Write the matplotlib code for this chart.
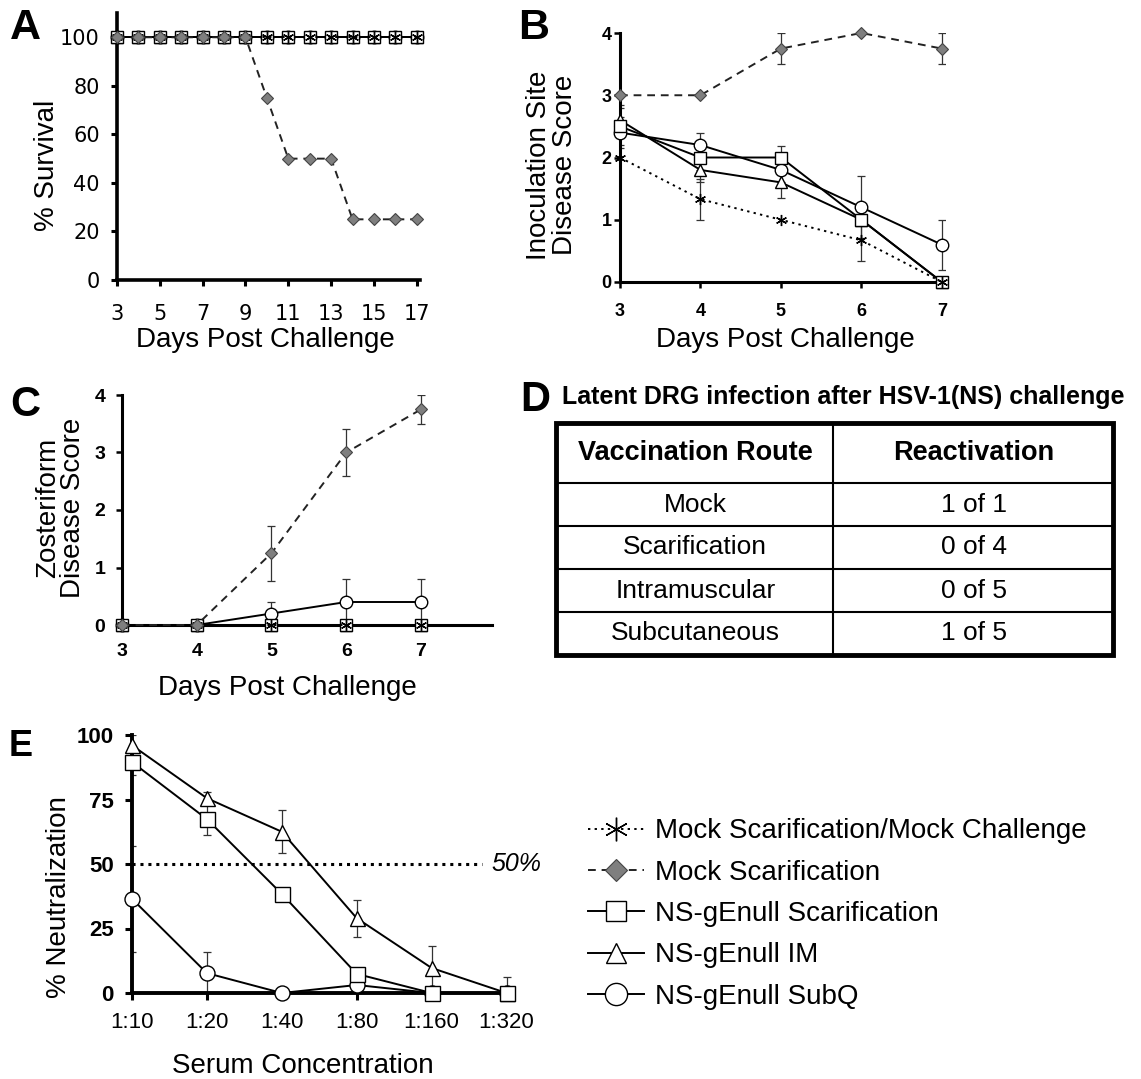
import numpy as np
import matplotlib
matplotlib.use("Agg")
import matplotlib.pyplot as plt
from matplotlib.lines import Line2D

plt.rcParams["font.family"] = ["Liberation Sans", "DejaVu Sans"]

W, H = 1141, 1079

series_names = ["Mock Scarification/Mock Challenge", "Mock Scarification",
                "NS-gEnull Scarification", "NS-gEnull IM", "NS-gEnull SubQ"]

# A: survival
survival_days = [3, 4, 5, 6, 7, 8, 9, 10, 11, 12, 13, 14, 15, 16, 17]
survival_mock_mock = [100, 100, 100, 100, 100, 100, 100, 100, 100, 100, 100, 100, 100, 100, 100]
survival_mock_scar = [100, 100, 100, 100, 100, 100, 100, 75, 50, 50, 50, 25, 25, 25, 25]
survival_scar = [100, 100, 100, 100, 100, 100, 100, 100, 100, 100, 100, 100, 100, 100, 100]
survival_im = [100, 100, 100, 100, 100, 100, 100, 100, 100, 100, 100, 100, 100, 100, 100]
survival_subq = [100, 100, 100, 100, 100, 100, 100, 100, 100, 100, 100, 100, 100, 100, 100]

# B: inoculation site disease score
score_days = [3, 4, 5, 6, 7]
inoc_mock_mock = [2.0, 1.33, 1.0, 0.67, 0.0]
inoc_mock_mock_err = [0.0, 0.33, 0.0, 0.33, 0.0]
inoc_mock_scar = [3.0, 3.0, 3.75, 4.0, 3.75]
inoc_mock_scar_err = [0.0, 0.0, 0.25, 0.0, 0.25]
inoc_scar = [2.5, 2.0, 2.0, 1.0, 0.0]
inoc_scar_err = [0.3, 0.2, 0.18, 0.0, 0.0]
inoc_im = [2.6, 1.8, 1.6, 1.0, 0.0]
inoc_im_err = [0.25, 0.2, 0.25, 0.0, 0.0]
inoc_subq = [2.4, 2.2, 1.8, 1.2, 0.6]
inoc_subq_err = [0.25, 0.2, 0.2, 0.5, 0.4]

# C: zosteriform disease score
zost_mock_mock = [0.0, 0.0, 0.0, 0.0, 0.0]
zost_mock_scar = [0.0, 0.0, 1.25, 3.0, 3.75]
zost_mock_scar_err = [0.0, 0.0, 0.48, 0.41, 0.25]
zost_scar = [0.0, 0.0, 0.0, 0.0, 0.0]
zost_im = [0.0, 0.0, 0.0, 0.0, 0.0]
zost_subq = [0.0, 0.0, 0.2, 0.4, 0.4]
zost_subq_err = [0.0, 0.0, 0.2, 0.4, 0.4]

# D: table
table_title = "Latent DRG infection after HSV-1(NS) challenge"
table_header = ["Vaccination Route", "Reactivation"]
table_routes = ["Mock", "Scarification", "Intramuscular", "Subcutaneous"]
table_reactivation = ["1 of 1", "0 of 4", "0 of 5", "1 of 5"]

# E: neutralization
dilutions = ["1:10", "1:20", "1:40", "1:80", "1:160", "1:320"]
neut_scar = [89.5, 67.4, 38.4, 7.4, 0.0, 0.0]
neut_scar_err = [5.0, 6.0, 0.0, 0.0, 0.0, 0.0]
neut_im = [96.0, 75.5, 62.5, 29.0, 9.7, 0.0]
neut_im_err = [4.0, 2.5, 8.3, 7.2, 8.5, 6.2]
neut_subq = [36.5, 7.7, 0.0, 3.1, 0.0, 0.0]
neut_subq_err = [20.5, 8.3, 1.5, 1.5, 0.0, 0.0]

GREY = "#7f7f7f"
styles = [
    dict(color="black", ls=(0, (1.2, 2.2)), marker=(6, 2, 0), mfc="black", mec="black", mew=1.0),
    dict(color="#222222", ls=(0, (4, 3)), marker="D", mfc=GREY, mec="#444444", mew=0.8),
    dict(color="black", ls="-", marker="s", mfc="white", mec="black", mew=1.0),
    dict(color="black", ls="-", marker="^", mfc="white", mec="black", mew=1.0),
    dict(color="black", ls="-", marker="o", mfc="white", mec="black", mew=1.0),
]
base_ms = [8, 6.5, 9, 9, 9]

fig = plt.figure(figsize=(W / 100, H / 100), dpi=100)


def px_axes(left, top, right, bottom):
    return fig.add_axes([left / W, 1 - bottom / H, (right - left) / W, (bottom - top) / H])


def clean(ax, lw):
    for s in ["top", "right"]:
        ax.spines[s].set_visible(False)
    for s in ["left", "bottom"]:
        ax.spines[s].set_linewidth(lw)
    ax.patch.set_alpha(0)


def draw_series(ax, x, ys, errs, order, ms_scale=1.0, lw=1.4):
    # later entries in order are drawn on top
    for k, i in enumerate(order):
        st = styles[i]
        ax.plot(x, ys[i], lw=lw, linestyle=st["ls"], color=st["color"],
                marker=st["marker"], markersize=base_ms[i] * ms_scale, markerfacecolor=st["mfc"],
                markeredgecolor=st["mec"], markeredgewidth=st["mew"], clip_on=False, zorder=3 + k * 0.1)
        if errs[i] is not None:
            e = np.array(errs[i])
            keep = e > 0
            if keep.any():
                ax.errorbar(np.array(x)[keep], np.array(ys[i])[keep], yerr=e[keep], fmt="none",
                            ecolor="#333333", elinewidth=0.9, capsize=3, capthick=0.9, zorder=2)


def panel_letter(letter, x, y, size):
    fig.text(x / W, 1 - y / H, letter, fontsize=size, fontweight="bold", ha="left", va="center")


# ---------- A ----------
axA = px_axes(117, 13, 420, 280)
clean(axA, 2.6)
draw_series(axA, survival_days,
            [survival_mock_mock, survival_mock_scar, survival_scar, survival_im, survival_subq],
            [None] * 5, [4, 3, 2, 0, 1])
axA.set_xlim(3, 17.15)
axA.set_ylim(0, 110)
axA.set_xticks([3, 5, 7, 9, 11, 13, 15, 17])
axA.set_yticks([0, 20, 40, 60, 80, 100])
axA.tick_params(axis="both", direction="out", length=4.5, width=2.2, labelsize=15)
axA.tick_params(axis="x", pad=13)
axA.tick_params(axis="y", pad=8)
for t in axA.get_xticklabels() + axA.get_yticklabels():
    t.set_fontfamily("DejaVu Sans")
axA.set_xlabel("Days Post Challenge", fontsize=20, va="center")
axA.xaxis.set_label_coords(265 / W, 1 - 340 / H, transform=fig.transFigure)
axA.set_ylabel("% Survival", fontsize=20, va="center")
axA.yaxis.set_label_coords(47 / W, 1 - 165 / H, transform=fig.transFigure)
panel_letter("A", 10, 28, 31)

# ---------- B ----------
axB = px_axes(620, 33, 945, 282)
clean(axB, 2.2)
draw_series(axB, score_days, [inoc_mock_mock, inoc_mock_scar, inoc_scar, inoc_im, inoc_subq],
            [inoc_mock_mock_err, inoc_mock_scar_err, inoc_scar_err, inoc_im_err, inoc_subq_err],
            [4, 3, 2, 1, 0])
axB.set_xlim(3, 7.04)
axB.set_ylim(0, 4)
axB.set_xticks(score_days)
axB.set_yticks([0, 1, 2, 3, 4])
axB.tick_params(axis="both", direction="out", length=4, width=1.8, labelsize=13)
axB.tick_params(axis="x", pad=11)
axB.tick_params(axis="y", pad=2)
for t in axB.get_xticklabels() + axB.get_yticklabels():
    t.set_fontweight("bold")
axB.set_xlabel("Days Post Challenge", fontsize=20, va="center")
axB.xaxis.set_label_coords(785 / W, 1 - 340 / H, transform=fig.transFigure)
axB.set_ylabel("Inoculation Site\nDisease Score", fontsize=20, va="center", linespacing=0.95)
axB.yaxis.set_label_coords(552 / W, 1 - 165 / H, transform=fig.transFigure)
panel_letter("B", 518, 28, 31)

# ---------- C ----------
axC = px_axes(122, 395, 492, 625)
clean(axC, 2.2)
draw_series(axC, score_days, [zost_mock_mock, zost_mock_scar, zost_scar, zost_im, zost_subq],
            [None, zost_mock_scar_err, None, None, zost_subq_err], [4, 3, 2, 0, 1])
axC.set_xlim(3, 7.95)
axC.set_ylim(0, 4)
axC.set_xticks(score_days)
axC.set_yticks([0, 1, 2, 3, 4])
axC.tick_params(axis="y", direction="out", length=4, width=1.8, labelsize=14, pad=8)
axC.tick_params(axis="x", length=0, labelsize=14, pad=13)
for t in axC.get_xticklabels() + axC.get_yticklabels():
    t.set_fontweight("bold")
axC.set_xlabel("Days Post Challenge", fontsize=20, va="center")
axC.xaxis.set_label_coords(287 / W, 1 - 688 / H, transform=fig.transFigure)
axC.set_ylabel("Zosteriform\nDisease Score", fontsize=20, va="center", linespacing=0.95)
axC.yaxis.set_label_coords(61 / W, 1 - 508 / H, transform=fig.transFigure)
panel_letter("C", 10, 405, 30)

# ---------- D ----------
axD = px_axes(556, 423, 1113, 655)
axD.set_xlim(0, 1)
axD.set_ylim(0, 1)
axD.axis("off")
n_rows = len(table_routes)
header_h = 60 / 232
row_h = (1 - header_h) / n_rows
bounds = [1 - header_h - k * row_h for k in range(n_rows)]
for yb in bounds:
    axD.axhline(yb, color="black", lw=1.5)
axD.axvline(0.497, color="black", lw=1.5)
axD.add_patch(plt.Rectangle((0, 0), 1, 1, fill=False, lw=3.5, ec="black", clip_on=False))
axD.text(0.25, 1 - header_h / 2, table_header[0], ha="center", va="center", fontsize=19.5, fontweight="bold")
axD.text(0.75, 1 - header_h / 2, table_header[1], ha="center", va="center", fontsize=19.5, fontweight="bold")
for k, (route, react) in enumerate(zip(table_routes, table_reactivation)):
    yc = bounds[k] - row_h / 2
    axD.text(0.25, yc, route, ha="center", va="center", fontsize=19)
    axD.text(0.75, yc, react, ha="center", va="center", fontsize=19)
fig.text(562 / W, 1 - 397 / H, table_title, fontsize=18, fontweight="bold", ha="left", va="center")
panel_letter("D", 520, 400, 30)

# ---------- E ----------
axE = px_axes(132, 735, 514, 993)
clean(axE, 2.8)
xe = np.arange(len(dilutions))
draw_series(axE, xe, [None, None, neut_scar, neut_im, neut_subq],
            [None, None, neut_scar_err, neut_im_err, neut_subq_err], [4, 3, 2], ms_scale=1.2)
axE.axhline(50, xmin=0, xmax=(482 - 132) / (514 - 132), color="black", lw=2.2, ls=(0, (1, 1.6)), zorder=1)
axE.text(4.8, 50, "50%", fontsize=18, fontstyle="italic", ha="left", va="center")
axE.set_xlim(0, 5.1)
axE.set_ylim(0, 100)
axE.set_xticks(xe)
axE.set_xticklabels(dilutions)
axE.set_yticks([0, 25, 50, 75, 100])
axE.tick_params(axis="both", direction="out", length=5, width=2.2, labelsize=16)
axE.tick_params(axis="x", pad=9)
axE.tick_params(axis="y", pad=8)
for t in axE.get_yticklabels():
    t.set_fontweight("bold")
axE.set_xlabel("Serum Concentration", fontsize=20, va="center")
axE.xaxis.set_label_coords(303 / W, 1 - 1066 / H, transform=fig.transFigure)
axE.set_ylabel("% Neutralization", fontsize=20, va="center")
axE.yaxis.set_label_coords(59 / W, 1 - 897 / H, transform=fig.transFigure)
panel_letter("E", 9, 746, 26)

# ---------- legend ----------
legend_ms = [17, 11, 14, 14, 16]
handles = []
for i, name in enumerate(series_names):
    st = styles[i]
    handles.append(Line2D([], [], color=st["color"], linestyle=st["ls"], lw=1.4, marker=st["marker"],
                          markersize=legend_ms[i], markerfacecolor=st["mfc"], markeredgecolor=st["mec"],
                          markeredgewidth=st["mew"], label=name))
fig.legend(handles=handles, loc="center left", bbox_to_anchor=(588 / W, 1 - 914 / H), frameon=False,
           fontsize=20, handlelength=2.0, handletextpad=0.4, labelspacing=0.55, borderpad=0, borderaxespad=0)

fig.savefig("out.png", dpi=100)
